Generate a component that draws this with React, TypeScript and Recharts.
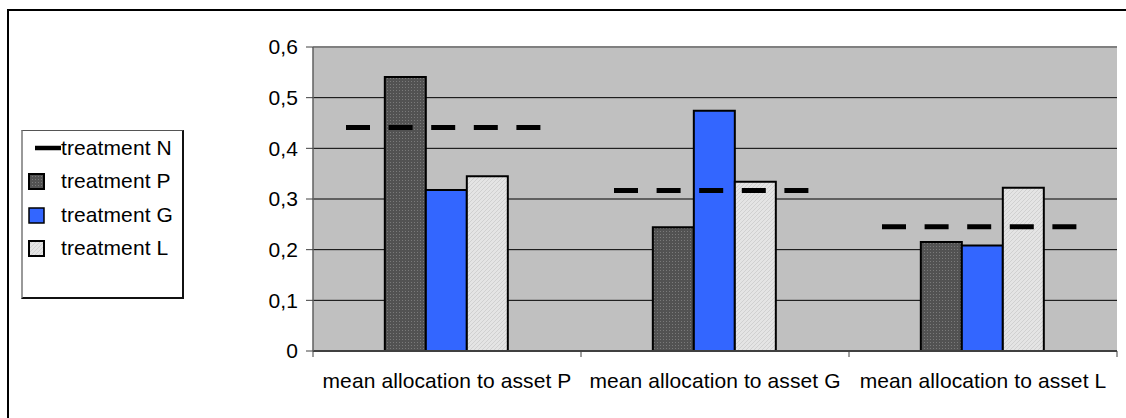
import React from 'react';
import { ComposedChart, Bar, Scatter, XAxis, YAxis, CartesianGrid, ReferenceLine } from 'recharts';

const categories = ['mean allocation to asset P', 'mean allocation to asset G', 'mean allocation to asset L'];
const treatmentN = [0.441, 0.317, 0.245];
const treatmentP = [0.541, 0.244, 0.215];
const treatmentG = [0.318, 0.474, 0.208];
const treatmentL = [0.345, 0.334, 0.322];
const yTicks = [0, 0.1, 0.2, 0.3, 0.4, 0.5, 0.6];
const seriesNames = ['treatment N', 'treatment P', 'treatment G', 'treatment L'];

const data = categories.map((name, i) => ({
  name,
  N: treatmentN[i],
  P: treatmentP[i],
  G: treatmentG[i],
  L: treatmentL[i],
}));

const FONT = '"Liberation Sans", Arial, sans-serif';
const FS = 21;
const LS = 0.1;
const DASH_LEFT = 101;
const DASH_RIGHT = 94;

const XTick = (props: any) => {
  const { x, y, payload, index } = props;
  const half = payload.offset ?? 0;
  return (
    <g>
      <line x1={x - half} x2={x - half} y1={y - 6} y2={y} stroke="#404040" strokeWidth={1} />
      {index === categories.length - 1 && (
        <line x1={x + half} x2={x + half} y1={y - 6} y2={y} stroke="#404040" strokeWidth={1} />
      )}
      <text x={x} y={y + 24} dy="0.355em" textAnchor="middle" fontFamily={FONT} fontSize={FS} letterSpacing={LS} fill="#000">
        {payload.value}
      </text>
    </g>
  );
};

const DashShape = (props: any) => {
  const { cx, cy } = props;
  if (cx == null || cy == null) return null;
  return (
    <line x1={cx - DASH_LEFT} x2={cx + DASH_RIGHT} y1={cy} y2={cy} stroke="#000" strokeWidth={5} strokeDasharray="24 18.6" />
  );
};

const swatchFill = ['', 'url(#patDark)', '#3366ff', 'url(#patLight)'];

const LegendBox = () => {
  const rowY = [148, 181, 215, 248];
  return (
    <div
      style={{
        position: 'absolute',
        left: 21,
        top: 130,
        width: 163,
        height: 169,
        borderTop: '1px solid #555',
        borderLeft: '2px solid #999',
        borderRight: '2px solid #111',
        borderBottom: '2px solid #111',
        background: '#fff',
        boxSizing: 'border-box',
        fontFamily: FONT,
        fontSize: FS,
        letterSpacing: LS,
        color: '#000',
      }}
    >
      <svg width={158} height={165} style={{ position: 'absolute', left: 0, top: 0 }}>
        {seriesNames.map((n, i) =>
          i === 0 ? (
            <line key={n} x1={12} x2={38} y1={rowY[i] - 131} y2={rowY[i] - 131} stroke="#000" strokeWidth={4.5} />
          ) : (
            <rect key={n} x={6} y={rowY[i] - 131 - 7} width={15} height={15} fill={swatchFill[i]} stroke="#000" strokeWidth={i === 2 ? 1.5 : 2} />
          )
        )}
      </svg>
      {seriesNames.map((n, i) => (
        <div key={n} style={{ position: 'absolute', left: 38, top: rowY[i] - 131 - 13, lineHeight: '26px', whiteSpace: 'nowrap' }}>
          {n}
        </div>
      ))}
    </div>
  );
};

export default function App() {
  return (
    <div style={{ position: 'relative', width: 1126, height: 418, overflow: 'hidden', background: '#fff' }}>
      <style>{`body{margin:0;overflow:hidden;}`}</style>
      <svg width={1126} height={418} style={{ position: 'absolute', left: 0, top: 0 }}>
        <defs>
          <pattern id="patDark" width="3" height="3" patternUnits="userSpaceOnUse">
            <rect width="3" height="3" fill="#525252" />
            <rect width="1" height="1" fill="#7a7a7a" />
          </pattern>
          <pattern id="patLight" width="4" height="4" patternUnits="userSpaceOnUse">
            <rect width="4" height="4" fill="#e4e4e4" />
            <path d="M0,4 L4,0" stroke="#d0d0d0" strokeWidth="1" />
          </pattern>
        </defs>
        <line x1={8} x2={8} y1={9} y2={418} stroke="#000" strokeWidth={2} />
        <line x1={7} x2={1126} y1={10} y2={10} stroke="#000" strokeWidth={2} />
      </svg>
      <div style={{ position: 'absolute', left: 0, top: 0 }}>
        <ComposedChart
          width={1126}
          height={418}
          data={data}
          margin={{ top: 47, right: 9, bottom: 37, left: 253 }}
          barCategoryGap="26.8%"
          barGap={0}
        >
          <CartesianGrid vertical={false} stroke="#000" strokeWidth={1} fill="#c0c0c0" fillOpacity={1} />
          <XAxis
            dataKey="name"
            type="category"
            interval={0}
            height={30}
            tickLine={false}
            tickSize={6}
            tickMargin={0}
            tick={<XTick />}
            axisLine={{ stroke: '#404040', strokeWidth: 2 }}
          />
          <YAxis
            type="number"
            domain={[0, 0.6]}
            ticks={yTicks}
            interval={0}
            width={60}
            tickSize={7}
            tickMargin={8}
            tickFormatter={(v: number) => String(Math.round(v * 10) / 10).replace('.', ',')}
            tick={{ fontFamily: FONT, fontSize: FS, letterSpacing: LS, fill: '#000' }}
            tickLine={{ stroke: '#404040' }}
            axisLine={{ stroke: '#606060', strokeWidth: 1.5 }}
            allowDataOverflow
          />
          <YAxis
            yAxisId="r"
            orientation="right"
            width={0}
            domain={[0, 0.6]}
            tick={false}
            tickLine={false}
            axisLine={{ stroke: '#808080', strokeWidth: 3 }}
          />
          <Bar dataKey="P" name="treatment P" fill="url(#patDark)" stroke="#000" strokeWidth={2} isAnimationActive={false} />
          <Bar dataKey="G" name="treatment G" fill="#3366ff" stroke="#000" strokeWidth={2} isAnimationActive={false} />
          <Bar dataKey="L" name="treatment L" fill="url(#patLight)" stroke="#000" strokeWidth={2} isAnimationActive={false} />
          <ReferenceLine y={0.6} stroke="#808080" strokeWidth={2} ifOverflow="visible" />
          <Scatter dataKey="N" name="treatment N" shape={<DashShape />} isAnimationActive={false} />
        </ComposedChart>
      </div>
      <LegendBox />
    </div>
  );
}
